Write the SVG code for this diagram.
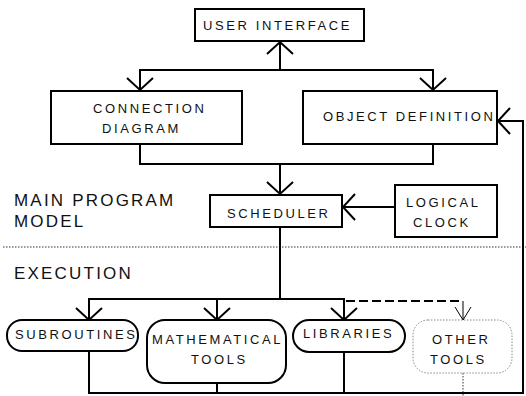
<svg xmlns="http://www.w3.org/2000/svg" width="526" height="396" viewBox="0 0 526 396">
  <style>
    .box { fill: #fff; stroke: #000; stroke-width: 2; }
    .ghost { fill: #fff; stroke: #888; stroke-width: 1; stroke-dasharray: 1.5 1.5; }
    .lbl { font-family: "Liberation Sans", Arial, sans-serif; font-size: 13px; letter-spacing: 2.6px; fill: #111; }
    .section { font-family: "Liberation Sans", Arial, sans-serif; font-size: 17px; letter-spacing: 2.2px; fill: #111; }
    .wire { fill: none; stroke: #000; stroke-width: 2; }
    .thin { fill: none; stroke: #000; stroke-width: 1; }
    .dash { fill: none; stroke: #000; stroke-width: 2; stroke-dasharray: 9 4; }
    .dot { fill: none; stroke: #333; stroke-width: 1; stroke-dasharray: 1.5 1.5; }
  </style>
  <defs>
    <marker id="vee" markerUnits="userSpaceOnUse" viewBox="-14 -14 16 28" refX="0" refY="0" markerWidth="16" markerHeight="28" orient="auto" overflow="visible">
      <path d="M-12,-13 L0,0 L-12,13" fill="none" stroke="#000" stroke-width="2"/>
    </marker>
    <marker id="veeThin" markerUnits="userSpaceOnUse" viewBox="-14 -10 16 20" refX="0" refY="0" markerWidth="16" markerHeight="20" orient="auto" overflow="visible">
      <path d="M-13,-8 L0,0 L-13,8" fill="none" stroke="#000" stroke-width="1"/>
    </marker>
  </defs>

  <!-- section divider and section titles -->
  <line x1="3" y1="247" x2="526" y2="247" class="dot"/>
  <text class="section" x="14" y="206">MAIN PROGRAM</text>
  <text class="section" x="14" y="227">MODEL</text>
  <text class="section" x="14" y="279">EXECUTION</text>

  <!-- connectors -->
  <g id="connectors">
    <path class="wire" d="M280,70 V42" marker-end="url(#vee)"/>
    <path class="wire" d="M280,70 H140 V90" marker-end="url(#vee)"/>
    <path class="wire" d="M280,70 H433 V90" marker-end="url(#vee)"/>
    <path class="wire" d="M140,144 V164 H433 V144"/>
    <path class="wire" d="M280,164 V194" marker-end="url(#vee)"/>
    <path class="wire" d="M395,207 H343" marker-end="url(#vee)"/>
    <path class="wire" d="M280,227 V299"/>
    <path class="wire" d="M280,299 H89 V320" marker-end="url(#vee)"/>
    <path class="wire" d="M280,299 H344 V320" marker-end="url(#vee)"/>
    <path class="wire" d="M217,299 V320" marker-end="url(#vee)"/>
    <path class="dash" d="M346,301 H463"/>
    <path class="thin" d="M463,301 V320" marker-end="url(#veeThin)"/>
    <path class="wire" d="M89,351 V393 H523 V121 H498" marker-end="url(#vee)"/>
    <path class="wire" d="M217,383 V393"/>
    <path class="wire" d="M344,352 V393"/>
    <path class="dot" d="M463,373 V396"/>
  </g>

  <g id="user-interface">
    <rect class="box" x="195" y="9" width="169" height="32"/>
    <text class="lbl" x="203" y="30">USER INTERFACE</text>
  </g>
  <g id="connection-diagram">
    <rect class="box" x="51" y="91" width="191" height="53"/>
    <text class="lbl" x="93" y="113">CONNECTION</text>
    <text class="lbl" x="102" y="133">DIAGRAM</text>
  </g>
  <g id="object-definition">
    <rect class="box" x="303" y="91" width="194" height="53"/>
    <text class="lbl" x="323" y="121">OBJECT DEFINITION</text>
  </g>
  <g id="scheduler">
    <rect class="box" x="210" y="195" width="132" height="32"/>
    <text class="lbl" x="227" y="218">SCHEDULER</text>
  </g>
  <g id="logical-clock">
    <rect class="box" x="395" y="185" width="102" height="52"/>
    <text class="lbl" x="406" y="207">LOGICAL</text>
    <text class="lbl" x="413" y="227">CLOCK</text>
  </g>
  <g id="subroutines">
    <rect class="box" x="7" y="320" width="131" height="31" rx="15" ry="15"/>
    <text class="lbl" x="15" y="339">SUBROUTINES</text>
  </g>
  <g id="mathematical-tools">
    <rect class="box" x="147" y="320" width="139" height="63" rx="18" ry="18"/>
    <text class="lbl" x="152" y="344">MATHEMATICAL</text>
    <text class="lbl" x="191" y="364">TOOLS</text>
  </g>
  <g id="libraries">
    <rect class="box" x="293" y="320" width="112" height="32" rx="16" ry="16"/>
    <text class="lbl" x="303" y="338">LIBRARIES</text>
  </g>
  <g id="other-tools">
    <rect class="ghost" x="413" y="320" width="99" height="53" rx="15" ry="15"/>
    <text class="lbl" x="432" y="344">OTHER</text>
    <text class="lbl" x="430" y="364">TOOLS</text>
  </g>
</svg>
